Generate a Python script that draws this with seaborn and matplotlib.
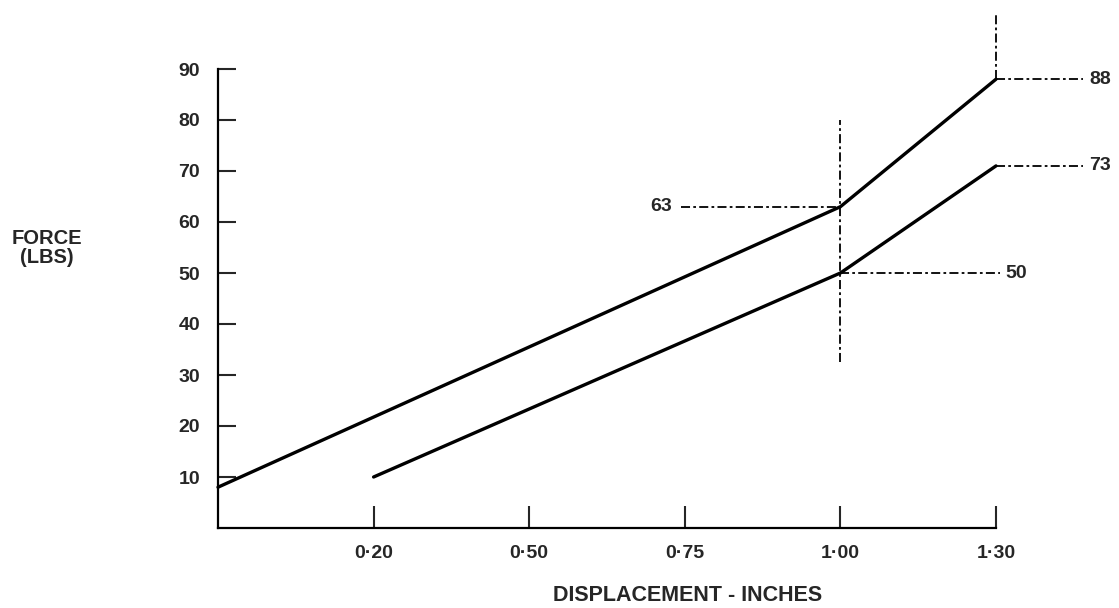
import numpy as np
import pandas as pd
import matplotlib.pyplot as plt
import seaborn as sns

# tick labels on the displacement axis (evenly spaced, not to scale)
disp_labels = ['0·20', '0·50', '0·75', '1·00', '1·30']
disp_pos = [1, 2, 3, 4, 5]
force_ticks = [10, 20, 30, 40, 50, 60, 70, 80, 90]

# the two force curves
upper_x = [0, 4, 5]
upper_y = [8, 63, 88]
lower_x = [1, 4, 5]
lower_y = [10, 50, 71]

# reference values written beside the dash-dot lines
ref_labels = ['63', '50', '88', '73']

df = pd.concat([
    pd.DataFrame({'pos': upper_x, 'force': upper_y, 'curve': 'upper'}),
    pd.DataFrame({'pos': lower_x, 'force': lower_y, 'curve': 'lower'}),
])

sns.set_style('white')
plt.rcParams['font.family'] = ['Liberation Sans', 'DejaVu Sans']
plt.rcParams['font.weight'] = 'bold'

fig = plt.figure(figsize=(11.19, 6.08), dpi=100)
ax = fig.add_axes([218/1119, 80/608, 778/1119, 459/608])

sns.lineplot(data=df, x='pos', y='force', hue='curve',
             palette={'upper': 'black', 'lower': 'black'},
             sort=False, estimator=None, linewidth=2.4,
             legend=False, ax=ax, clip_on=False)

ax.set_xlim(0, 5)
ax.set_ylim(0, 90)

#dash-dot guide lines
dd = dict(color='black', lw=1.3, dashes=(5, 1.8, 1.5, 1.8), clip_on=False)
ax.plot([2.976, 4], [upper_y[1], upper_y[1]], **dd)
ax.plot([4, 4], [32.5, 80], **dd)
ax.plot([4, 5.026], [lower_y[1], lower_y[1]], **dd)
ax.plot([5, 5], [upper_y[2], 101], **dd)
ax.plot([5, 5.56], [upper_y[2], upper_y[2]], **dd)
ax.plot([5, 5.56], [lower_y[2], lower_y[2]], **dd)

tk = dict(fontsize=14, fontweight='bold', ha='center', va='center')
ax.text(2.85, upper_y[1], ref_labels[0], **tk)
ax.text(5.13, lower_y[1], ref_labels[1], **tk)
ax.text(5.67, upper_y[2], ref_labels[2], **tk)
ax.text(5.67, lower_y[2], ref_labels[3], **tk)

ax.set_xticks(disp_pos)
ax.set_xticklabels(disp_labels)
ax.set_yticks(force_ticks)
ax.tick_params(axis='x', direction='in', length=16, width=1.5, pad=12,
               labelsize=14, bottom=True)
ax.tick_params(axis='y', direction='in', length=13, width=1.5, pad=13,
               labelsize=14, left=True)
for lab in ax.get_xticklabels() + ax.get_yticklabels():
    lab.set_fontweight('bold')

sns.despine(ax=ax)
for s in ['left', 'bottom']:
    ax.spines[s].set_linewidth(1.6)
    ax.spines[s].set_color('black')

ax.set_xlabel('DISPLACEMENT - INCHES', fontsize=15.5, fontweight='bold',
              va='center')
ax.xaxis.set_label_coords(0.603, -0.147)
ax.set_ylabel('FORCE\n(LBS)', fontsize=14.5, fontweight='bold', rotation=0,
              ha='center', va='center', linespacing=1.05)
ax.yaxis.set_label_coords(-0.22, 0.61)

fig.savefig('out.png', dpi=100)
